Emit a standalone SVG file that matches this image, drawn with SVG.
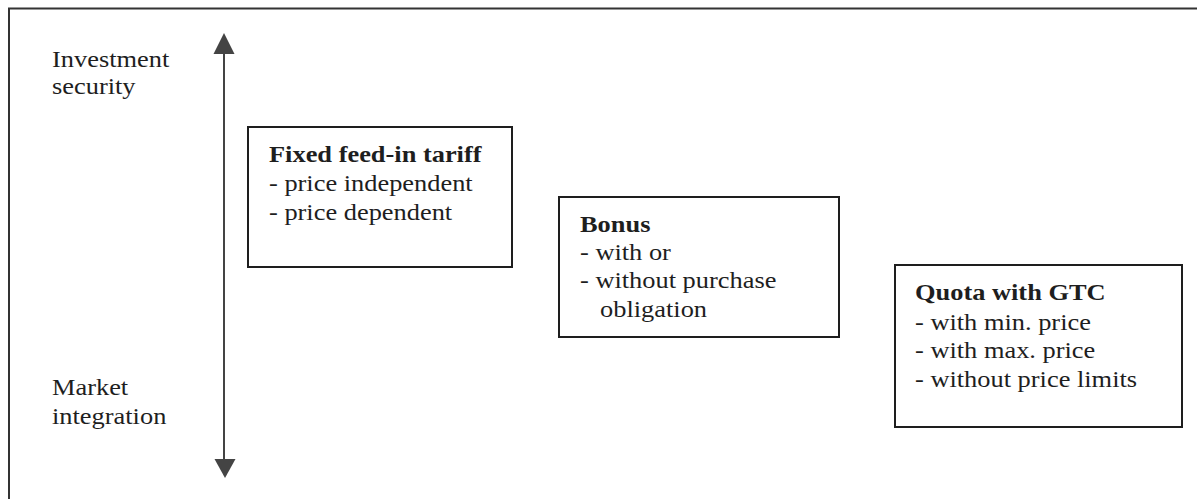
<svg xmlns="http://www.w3.org/2000/svg" width="1197" height="499" viewBox="0 0 1197 499">
<style>
.t{font-family:"Liberation Serif","Times New Roman",serif;font-size:24px;fill:#1e1e1e}
.b{font-weight:bold}
.box{fill:#fff;stroke:#1e1e1e;stroke-width:2}
.frame{fill:none;stroke:#333;stroke-width:2}
.axis{stroke:#444;stroke-width:2}
.head{fill:#444}
</style>
<rect width="1197" height="499" fill="#fff"/>
<path class="frame" d="M9 499 V8.5 H1197"/>
<g id="axis-labels">
<text class="t" transform="translate(52 67) scale(1.1 1)">Investment</text>
<text class="t" transform="translate(52 94) scale(1.1 1)">security</text>
<text class="t" transform="translate(52 395) scale(1.1 1)">Market</text>
<text class="t" transform="translate(52 424) scale(1.1 1)">integration</text>
</g>
<g id="connectors">
<line class="axis" x1="224" y1="50" x2="224" y2="462"/>
<polygon class="head" points="224,33 213.5,54 234.5,54"/>
<polygon class="head" points="225,478 214.5,459 235.5,459"/>
</g>
<g id="fixed-feed-in-tariff">
<rect class="box" x="248" y="127" width="264" height="140"/>
<text class="t b" transform="translate(269 162) scale(1.1 1)">Fixed feed-in tariff</text>
<text class="t" transform="translate(269 191) scale(1.1 1)">- price independent</text>
<text class="t" transform="translate(269 220) scale(1.1 1)">- price dependent</text>
</g>
<g id="bonus">
<rect class="box" x="559" y="197" width="280" height="140"/>
<text class="t b" transform="translate(580 232) scale(1.1 1)">Bonus</text>
<text class="t" transform="translate(580 260) scale(1.1 1)">- with or</text>
<text class="t" transform="translate(580 288) scale(1.1 1)">- without purchase</text>
<text class="t" transform="translate(600 317) scale(1.1 1)">obligation</text>
</g>
<g id="quota-with-gtc">
<rect class="box" x="895" y="265" width="287" height="162"/>
<text class="t b" transform="translate(915 300) scale(1.1 1)">Quota with GTC</text>
<text class="t" transform="translate(915 330) scale(1.1 1)">- with min. price</text>
<text class="t" transform="translate(915 358) scale(1.1 1)">- with max. price</text>
<text class="t" transform="translate(915 387) scale(1.1 1)">- without price limits</text>
</g>
</svg>
